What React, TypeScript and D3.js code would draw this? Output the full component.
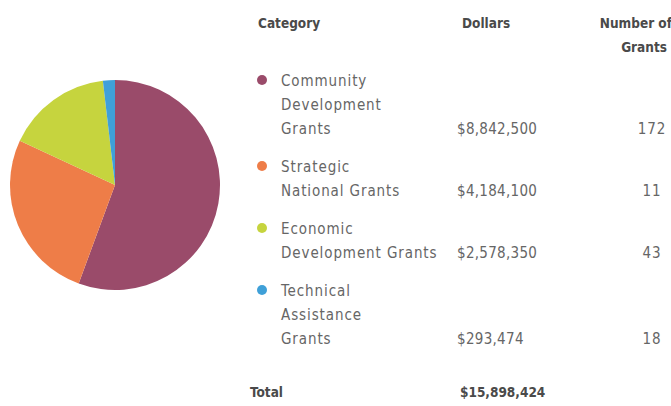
import * as d3 from "d3";

const categories = [
  ["Community", "Development", "Grants"],
  ["Strategic", "National Grants"],
  ["Economic", "Development Grants"],
  ["Technical", "Assistance", "Grants"],
];
const dollars = [8842500, 4184100, 2578350, 293474];
const grantCounts = [172, 11, 43, 18];
const colors = ["#9a4b6a", "#ee7d48", "#c6d43e", "#3fa0d8"];
const totalLabel = "$15,898,424";

const fmt = d3.format("$,");

function App() {
  const w = 671;
  const h = 406;
  const cx = 115;
  const cy = 185;
  const r = 105;

  const pie = d3.pie<number>().sort(null).value((d) => d);
  const arcs = pie(dollars);
  const arc = d3.arc<d3.PieArcDatum<number>>().innerRadius(0).outerRadius(r);

  const font = "'DejaVu Sans Condensed', 'DejaVu Sans', sans-serif";
  const lineH = 24;
  const rowGap = 38;
  const rows: { y: number; lines: string[] }[] = [];
  let y = 86;
  categories.forEach((lines) => {
    rows.push({ y, lines });
    y += (lines.length - 1) * lineH + rowGap;
  });

  return (
    <svg width={w} height={h} style={{ position: "absolute", left: 0, top: 0 }}>
      <rect width={w} height={h} fill="#fff" />
      <g transform={`translate(${cx},${cy})`}>
        {arcs.map((a, i) => (
          <path key={i} d={arc(a) || ""} fill={colors[i]} />
        ))}
      </g>
      <g fontFamily={font} fontWeight="bold" fontSize={13.5} fill="#4a4a4a">
        <text x={258} y={28}>Category</text>
        <text x={462} y={28}>Dollars</text>
        <text x={672} y={28} textAnchor="end">Number of</text>
        <text x={667} y={52} textAnchor="end">Grants</text>
        <text x={250} y={397}>Total</text>
        <text x={460} y={397}>{totalLabel}</text>
      </g>
      <g fontFamily={font} fontSize={15} fill="#666" letterSpacing={0.9}>
        {rows.map((row, i) => {
          const lastY = row.y + (row.lines.length - 1) * lineH;
          return (
            <g key={i}>
              <circle cx={262} cy={row.y - 6} r={5} fill={colors[i]} />
              {row.lines.map((t, j) => (
                <text key={j} x={281} y={row.y + j * lineH}>{t}</text>
              ))}
              <text x={457} y={lastY} letterSpacing={0.3}>{fmt(dollars[i])}</text>
              <text x={652} y={lastY} textAnchor="middle">{grantCounts[i]}</text>
            </g>
          );
        })}
      </g>
    </svg>
  );
}

export default App;
